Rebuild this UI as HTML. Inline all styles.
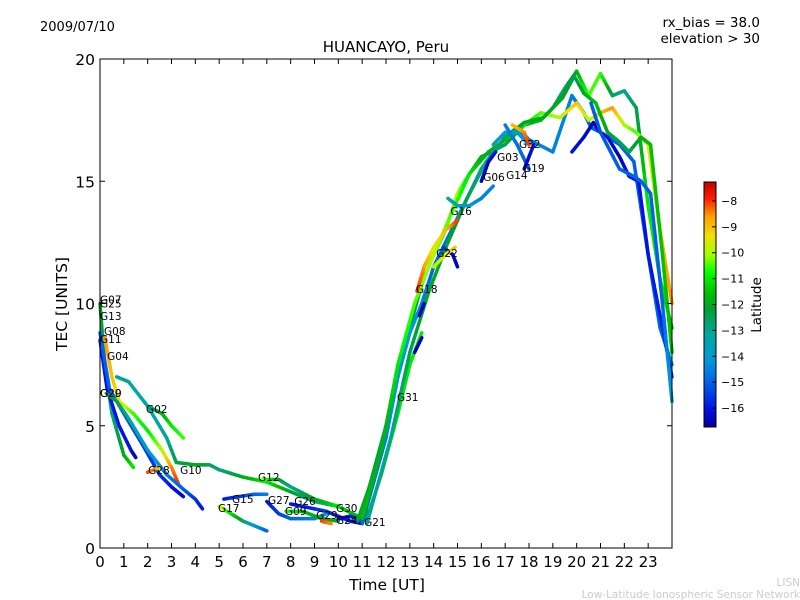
<!DOCTYPE html>
<html><head><meta charset="utf-8">
<style>
html,body{margin:0;padding:0;background:#fff;}
svg{display:block;font-family:"DejaVu Sans","Liberation Sans",sans-serif;}
</style></head>
<body>
<svg id="chart" width="800" height="600" viewBox="0 0 800 600" xmlns="http://www.w3.org/2000/svg">
<defs>
<linearGradient id="cbgrad" x1="0" y1="1" x2="0" y2="0">
<stop offset="0" stop-color="#00009a"/>
<stop offset="0.07" stop-color="#0010e0"/>
<stop offset="0.18" stop-color="#0060e8"/>
<stop offset="0.27" stop-color="#0098d8"/>
<stop offset="0.38" stop-color="#00a8a0"/>
<stop offset="0.48" stop-color="#00a030"/>
<stop offset="0.55" stop-color="#00c000"/>
<stop offset="0.63" stop-color="#00ff00"/>
<stop offset="0.7" stop-color="#a0ff00"/>
<stop offset="0.78" stop-color="#f0e000"/>
<stop offset="0.86" stop-color="#ffa000"/>
<stop offset="0.93" stop-color="#ff2000"/>
<stop offset="1" stop-color="#c00000"/>
</linearGradient>
</defs>
<text x="40" y="31" font-size="13">2009/07/10</text>
<text x="760" y="27" font-size="13.5" text-anchor="end">rx_bias = 38.0</text>
<text x="760" y="43" font-size="13.5" text-anchor="end">elevation &gt; 30</text>
<text x="386" y="52" font-size="15" text-anchor="middle">HUANCAYO, Peru</text>
<g id="tracks"></g>
<g id="labels"></g>
<rect x="100" y="59" width="572" height="489" fill="none" stroke="#000" stroke-width="1"/>
<g id="axes"></g>
<text x="387" y="590" font-size="15.5" text-anchor="middle">Time [UT]</text>
<text transform="translate(67,304) rotate(-90)" font-size="15.5" text-anchor="middle">TEC [UNITS]</text>
<rect x="704" y="182" width="12" height="245" fill="url(#cbgrad)" stroke="#000" stroke-width="1"/>
<g id="cbticks"></g>
<text transform="translate(761,305) rotate(-90)" font-size="13.5" text-anchor="middle">Latitude</text>
<text x="800" y="586" font-size="10.5" fill="#ccc" text-anchor="end">LISN</text>
<text x="800" y="598" font-size="10.5" fill="#ccc" text-anchor="end">Low-Latitude Ionospheric Sensor Network</text>
</svg>
<script>
// ---- data ----
const xTicks = [0,1,2,3,4,5,6,7,8,9,10,11,12,13,14,15,16,17,18,19,20,21,22,23];
const yTicks = [0,5,10,15,20];
const cbTicks = [-8,-9,-10,-11,-12,-13,-14,-15,-16];
// each track: times (UT hours), TEC values, latitude at those points
const trackTimes = [
 [0,0.2,0.5,1.0,1.4],
 [0,0.3,0.8,1.3,1.5],
 [0,0.4,1.0,1.8,2.5,3.0,3.5],
 [0.2,0.5,0.8,1.4,2.0,2.6,3.0,3.3],
 [0.3,0.7,1.2,2.0,2.8,3.5,4.0,4.3],
 [0.7,1.2,2.0,2.8,3.2,4.0,4.6,5.0,6.0,7.0,8.0,9.0,10.0,10.8],
 [2.0,2.6,3.0,3.5],
 [2.0,2.5],
 [6.8,7.5,8.0,9.0,10.0,11.0],
 [5.2,5.8,6.5,7.0],
 [5.0,5.5,6.0,6.5,7.0],
 [7.0,7.5,8.0,9.0,9.5],
 [8.0,8.5,9.5,10.5,11.0],
 [7.8,8.5,9.3,10.0],
 [9.3,9.7],
 [10.0,10.5,11.0,11.3,11.8,12.5,13.0,13.5],
 [10.8,11.3,12.0,12.5,13.0,13.5,14.0,14.5,15.0,15.5,16.0,17.0,17.8,18.5,19.0,19.5,20.0,20.5,21.0,21.5,22.0,22.5,23.0,23.5,24.0],
 [11.0,12.0,12.5,13.0,13.5,14.0,14.5,15.0,15.5,16.0,16.5,17.0,17.5,18.0,19.0,19.8,20.3,20.6,21.0,21.8,22.4,23.0,23.5,24.0],
 [11.0,11.8,12.5,13.2,14.0,14.8,15.5,16.3,17.0,17.8,18.5,19.3,20.0,20.5,21.0,21.5,22.0,22.5,23.0,23.5,24.0],
 [11.2,12.2,13.0,13.8,14.6,15.4,16.2,17.0,17.8,18.6,19.4,19.9,20.3,20.8,21.3,21.8,22.2,22.7,23.1,23.6,24.0],
 [13.2,13.5],
 [13.4,13.6],
 [13.3,13.6,14.0,14.5,15.0],
 [14.4,14.8,15.0],
 [14.0,14.5,14.9],
 [14.6,15.0,15.5,16.0,16.5],
 [16.0,16.3,16.6],
 [16.5,17.0,17.5,18.0],
 [17.0,17.5,18.0],
 [17.8,18.2],
 [17.3,17.8,18.0],
 [19.8,20.3,20.7,21.0,21.3,21.8,22.2,22.6,23.0,23.5,24.0],
 [20.6,21.0,21.8,22.4,22.7,23.1,23.6,24.0]
];
const trackTec = [
 [10.0,7.5,5.5,3.8,3.3],
 [8.5,6.5,5.0,4.0,3.7],
 [8.8,6.5,5.5,4.2,3.0,2.5,2.1],
 [8.6,7.0,6.0,5.5,4.8,4.0,3.3,2.6],
 [6.3,6.0,5.3,4.0,3.0,2.4,2.0,1.6],
 [7.0,6.8,5.8,4.5,3.5,3.4,3.4,3.2,2.9,2.7,2.3,1.9,1.7,1.3],
 [5.8,5.5,5.0,4.5],
 [3.1,3.3],
 [2.8,2.8,2.5,2.0,1.7,1.2],
 [2.0,2.1,2.2,2.2],
 [1.7,1.4,1.1,0.9,0.7],
 [1.9,1.4,1.2,1.2,1.4],
 [1.8,1.7,1.5,1.1,1.0],
 [1.5,1.5,1.2,1.1],
 [1.1,1.0],
 [1.2,1.3,1.1,1.5,3.0,5.5,7.5,8.8],
 [1.1,2.5,5.0,7.0,9.0,10.8,12.0,13.0,14.5,15.3,16.0,16.5,17.3,17.5,18.0,18.8,19.5,18.5,19.4,18.5,18.7,18.0,14.0,11.0,9.0],
 [1.0,4.5,7.0,8.8,10.0,11.5,12.5,13.5,14.5,15.5,16.2,16.8,17.2,16.7,16.2,18.5,17.8,17.2,17.0,16.5,15.8,12.0,9.0,7.5],
 [1.2,4.0,7.5,10.0,12.0,13.8,15.3,16.2,16.7,17.3,17.8,17.6,18.2,17.5,17.8,18.0,17.3,17.0,16.5,13.0,10.0],
 [1.0,4.5,8.0,10.5,12.5,14.3,15.8,16.8,17.4,17.6,18.4,19.3,18.6,18.2,17.0,16.6,16.2,16.8,16.5,12.0,8.0],
 [8.0,8.6],
 [9.5,10.0],
 [10.5,11.5,12.3,13.0,13.4],
 [12.3,12.0,11.5],
 [11.5,12.0,12.3],
 [14.3,14.0,14.0,14.3,14.8],
 [15.0,15.8,16.2],
 [16.5,17.0,17.0,16.5],
 [17.3,16.5,15.5],
 [15.5,16.5],
 [17.3,17.0,16.5],
 [16.2,16.8,17.4,17.0,16.8,16.0,15.2,15.0,12.0,9.5,7.0],
 [18.2,17.0,15.5,15.2,15.0,14.5,10.0,6.0]
];
const trackLat = [
 [-12,-13,-13,-12,-11],
 [-16,-16,-16,-16,-16.5],
 [-15,-15,-15.2,-15.5,-15.5,-16,-16.3],
 [-8.5,-9,-9.5,-10.5,-11,-10,-8.5,-8],
 [-12,-12.5,-13,-14,-14.5,-15,-15.5,-16],
 [-13,-13,-13.5,-13,-12.5,-12,-12.5,-13,-12,-11,-12,-13,-13,-12],
 [-13,-12,-11,-10.5],
 [-8,-9],
 [-10,-12,-13,-12,-11,-12],
 [-16,-15.5,-15,-14.5],
 [-9.5,-11,-12.5,-14,-15],
 [-16,-15.5,-15,-14.5,-14],
 [-16,-16,-15.5,-16,-16.5],
 [-10.5,-11.5,-12,-12],
 [-8,-8.5],
 [-16.5,-16,-15.5,-12,-11.5,-11,-11,-11],
 [-12,-12,-12.5,-13,-12.5,-12,-11.5,-10.5,-10,-11,-12,-12.5,-12,-11.5,-12.5,-12.5,-12,-10.5,-10.5,-12.5,-13,-12.5,-11,-11,-11.5],
 [-15,-14.5,-14,-14,-14.5,-15,-15,-14.5,-14,-14.5,-14.5,-14.5,-14.5,-14.5,-14.5,-14.5,-15,-15,-15,-15,-15,-15,-15,-14],
 [-11.5,-12,-11,-10.5,-10,-10.5,-11,-12,-11.5,-11,-10.5,-10,-9,-10,-9,-8.5,-10,-10.5,-9.5,-9,-8.5],
 [-13,-13,-12.5,-12,-12,-12.5,-13,-12.5,-12,-12,-12,-12.5,-12,-11.5,-12,-12.5,-12.5,-12,-11.5,-11.5,-11.5],
 [-16.5,-16.5],
 [-16.5,-16.5],
 [-8,-8.5,-9.5,-9,-8],
 [-15.5,-16,-16.5],
 [-10,-9.5,-9],
 [-13,-13.5,-14,-14.5,-14.5],
 [-16.5,-16.5,-16],
 [-13.5,-14,-14,-14],
 [-14.5,-14.8,-15],
 [-16.5,-16],
 [-9,-8.5,-8],
 [-16,-16.2,-16.5,-16.5,-16,-16.5,-16,-16,-16,-15.8,-15.5],
 [-15,-15.2,-15,-15,-15,-15,-15,-14]
];
const labelNames = ["G07","G25","G13","G08","G11","G04","G20","G29","G02","G28","G10","G12","G15","G17","G27","G26","G09","G29","G30","G24","G21","G31","G18","G22","G16","G06","G03","G14","G19","G32"];
const labelTimes = [0,0,0,0.17,0,0.3,0,0,1.93,2.02,3.36,6.63,5.54,4.95,7.05,8.15,7.76,9.07,9.9,9.9,11.08,12.46,13.26,14.11,14.7,16.08,16.66,17.04,17.75,17.58];
const labelTec = [10.17,10.0,9.49,8.87,8.55,7.85,6.33,6.33,5.68,3.19,3.19,2.9,2.0,1.64,1.96,1.92,1.51,1.35,1.64,1.15,1.07,6.17,10.6,12.06,13.78,15.17,15.99,15.26,15.54,16.52];

// ---- axis functions ----
const X0=100, X1=672, Y0=548, Y1=59;
const xs = t => X0 + (X1-X0)*t/24;
const ys = v => Y0 - (Y0-Y1)*v/20;
const LATMIN=-16.73, LATMAX=-7.27;
const cbY = l => 427 - 245*(l-LATMIN)/(LATMAX-LATMIN);
const stops=[[0,[0,0,154]],[0.07,[0,16,224]],[0.18,[0,96,232]],[0.27,[0,152,216]],[0.38,[0,168,160]],[0.48,[0,160,48]],[0.55,[0,192,0]],[0.63,[0,255,0]],[0.7,[160,255,0]],[0.78,[240,224,0]],[0.86,[255,160,0]],[0.93,[255,32,0]],[1,[192,0,0]]];
function cmap(l){
  let f=(l-LATMIN)/(LATMAX-LATMIN); f=Math.max(0,Math.min(1,f));
  for(let i=1;i<stops.length;i++){ if(f<=stops[i][0]){const a=stops[i-1],b=stops[i];const u=(f-a[0])/(b[0]-a[0]);
    const c=a[1].map((v,k)=>Math.round(v+(b[1][k]-v)*u));return `rgb(${c[0]},${c[1]},${c[2]})`;}}
  return 'rgb(192,0,0)';
}
const NS='http://www.w3.org/2000/svg';
const tracksG=document.getElementById('tracks');
for(let k=0;k<trackTimes.length;k++){
  const T=trackTimes[k],V=trackTec[k],L=trackLat[k];
  const g=document.createElementNS(NS,'g');
  
  
  for(let i=0;i<T.length-1;i++){
    const n=6;
    for(let j=0;j<n;j++){
      const u0=j/n,u1=(j+1)/n;
      const ln=document.createElementNS(NS,'line');
      ln.setAttribute('x1',xs(T[i]+(T[i+1]-T[i])*u0));
      ln.setAttribute('y1',ys(V[i]+(V[i+1]-V[i])*u0));
      ln.setAttribute('x2',xs(T[i]+(T[i+1]-T[i])*u1));
      ln.setAttribute('y2',ys(V[i]+(V[i+1]-V[i])*u1));
      ln.setAttribute('stroke',cmap(L[i]+(L[i+1]-L[i])*(u0+u1)/2));
      ln.setAttribute('stroke-width','3.5');
      ln.setAttribute('stroke-linecap','round');
      
      
      g.appendChild(ln);
    }
  }
  tracksG.appendChild(g);
}
const labelsG=document.getElementById('labels');
for(let i=0;i<labelNames.length;i++){
  const t=document.createElementNS(NS,'text');
  t.setAttribute('x',xs(labelTimes[i]));
  t.setAttribute('y',ys(labelTec[i])+4);
  t.setAttribute('font-size','10.5');
  t.textContent=labelNames[i];
  
  
  labelsG.appendChild(t);
}
const axesG=document.getElementById('axes');
function mk(tag,attrs,parent){const e=document.createElementNS(NS,tag);for(const a in attrs)e.setAttribute(a,attrs[a]);parent.appendChild(e);return e;}
xTicks.forEach(v=>{
  const x=xs(v);
  const a=mk('line',{x1:x,x2:x,y1:Y0,y2:Y0-5,stroke:'#000'},axesG);
  
  
  const b=mk('line',{x1:x,x2:x,y1:Y1,y2:Y1+5,stroke:'#000'},axesG);
  
  
  const t=mk('text',{x:x,y:567,'font-size':'15','text-anchor':'middle'},axesG);
  t.textContent=v;
  
  
});
yTicks.forEach(v=>{
  const y=ys(v);
  const a=mk('line',{x1:X0,x2:X0+5,y1:y,y2:y,stroke:'#000'},axesG);
  
  
  const b=mk('line',{x1:X1,x2:X1-5,y1:y,y2:y,stroke:'#000'},axesG);
  
  
  const t=mk('text',{x:95,y:y+6,'font-size':'15.5','text-anchor':'end'},axesG);
  t.textContent=v;
  
  
});
const cbG=document.getElementById('cbticks');
cbTicks.forEach(v=>{
  const y=cbY(v);
  const a=mk('line',{x1:716,x2:712,y1:y,y2:y,stroke:'#000'},cbG);
  
  
  const t=mk('text',{x:721,y:y+4,'font-size':'11'},cbG);
  t.textContent='\u2212'+Math.abs(v);
  
  
});
</script>
</body></html>
